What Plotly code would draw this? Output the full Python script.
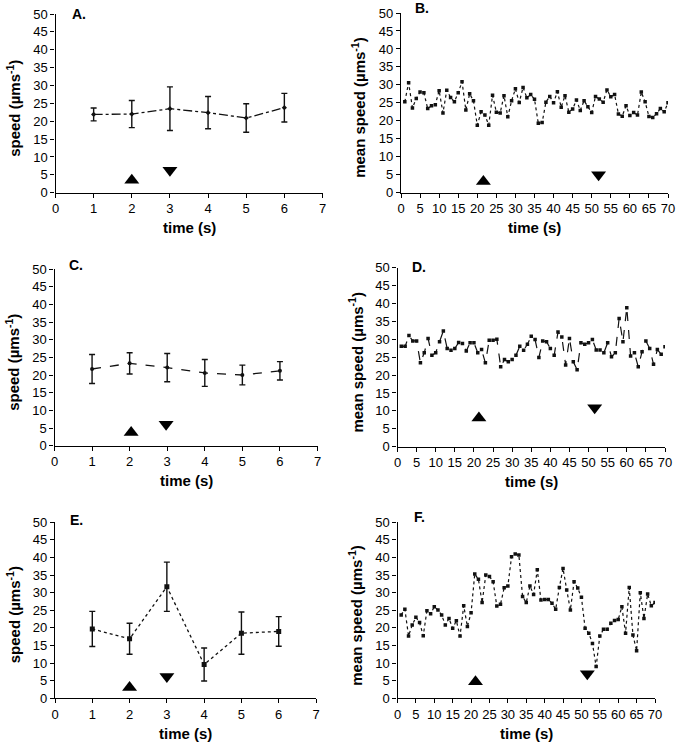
import plotly.graph_objects as go

W, H = 676, 742

# ---------------- data ----------------
sec = [1, 2, 3, 4, 5, 6]

a_mean = [21.9, 22.0, 23.5, 22.4, 20.9, 23.8]
a_err = [1.8, 3.8, 6.1, 4.5, 4.0, 4.0]

c_mean = [21.7, 23.3, 22.1, 20.6, 20.0, 21.2]
c_err = [4.1, 3.0, 4.0, 3.8, 2.8, 2.6]

e_mean = [19.7, 16.9, 31.7, 9.6, 18.5, 19.0]
e_err = [5.0, 4.4, 7.0, 4.7, 6.0, 4.2]

t70 = list(range(1, 71))

b_speed = [25.3, 30.6, 23.6, 26.2, 28.0, 27.8, 23.4, 24.2, 24.5, 28.4,
           22.2, 28.5, 26.5, 25.3, 27.8, 30.9, 23.0, 27.5, 25.6, 18.8,
           22.5, 21.6, 18.8, 27.1, 22.4, 22.2, 27.0, 21.1, 25.6, 28.9,
           25.1, 29.3, 26.4, 27.3, 26.0, 19.3, 19.5, 25.2, 26.8, 25.0,
           28.1, 23.8, 27.0, 22.4, 23.3, 25.8, 22.9, 25.6, 23.9, 22.3,
           26.8, 26.1, 25.2, 28.6, 26.7, 27.3, 21.9, 21.3, 24.2, 21.5,
           22.3, 21.6, 28.0, 25.3, 21.2, 20.9, 22.0, 23.4, 22.5, 25.0]

d_speed = [28.0, 28.0, 31.0, 29.5, 29.5, 23.4, 26.2, 30.2, 25.5, 26.2,
           29.3, 32.3, 27.4, 26.9, 27.4, 29.1, 28.8, 26.7, 29.0, 29.0,
           26.2, 27.1, 23.4, 29.7, 29.7, 30.0, 22.3, 24.3, 23.7, 24.3,
           25.5, 28.0, 26.9, 28.6, 30.8, 29.9, 24.9, 29.5, 29.3, 27.4,
           25.5, 32.0, 30.6, 22.8, 30.2, 23.7, 21.5, 29.0, 28.6, 29.0,
           29.9, 27.0, 27.0, 26.2, 29.0, 25.1, 26.2, 35.8, 29.3, 38.8,
           25.3, 26.2, 22.3, 26.5, 29.5, 27.4, 23.0, 27.1, 25.8, 27.9]

f_speed = [23.7, 25.3, 17.7, 20.8, 23.0, 21.5, 17.8, 24.9, 24.0, 26.0,
           25.1, 23.7, 20.8, 22.7, 19.9, 22.0, 17.7, 26.3, 20.4, 24.3,
           35.3, 33.8, 27.2, 35.0, 34.6, 33.1, 26.2, 26.7, 31.4, 31.9,
           40.2, 41.0, 40.7, 28.9, 27.2, 31.9, 29.5, 36.5, 27.9, 28.1,
           28.1, 27.0, 25.3, 31.5, 36.9, 30.8, 25.1, 33.1, 31.3, 28.7,
           19.9, 18.5, 15.6, 9.0, 17.7, 19.6, 19.6, 21.3, 22.1, 22.4,
           26.0, 18.5, 31.5, 18.0, 13.5, 30.0, 22.7, 29.6, 26.3, 27.2]

# arrow markers (x, y) : up = stimulus on, down = stimulus off
up_x = {"A": 2, "B": 21.6, "C": 2.04, "D": 21.3, "E": 2, "F": 21.2}
up_y = {"A": 3.5, "B": 3.1, "C": 3.7, "D": 8.0, "E": 3.1, "F": 4.7}
dn_x = {"A": 3, "B": 51.8, "C": 2.97, "D": 51.6, "E": 3, "F": 51.6}
dn_y = {"A": 6.3, "B": 5.0, "C": 6.1, "D": 10.9, "E": 6.2, "F": 7.0}

panel_labels = ["A.", "B.", "C.", "D.", "E.", "F."]
y_ticks = list(range(0, 51, 5))
x_ticks_left = list(range(0, 8))
x_ticks_right = list(range(0, 71, 5))

# ---------------- layout (pixel boxes) ----------------
# (x0, x1, ytop, ybottom) in pixels
boxes = {
    "A": (55.5, 322.5, 14.0, 192.7),
    "B": (401.0, 668.0, 13.0, 192.7),
    "C": (54.5, 317.5, 269.0, 445.7),
    "D": (397.5, 665.0, 267.5, 446.7),
    "E": (55.0, 316.0, 522.3, 698.3),
    "F": (397.5, 655.0, 522.3, 698.3),
}
label_pos = {"A": (70, 14), "B": (413, 8), "C": (67, 265), "D": (410, 267),
             "E": (68, 520), "F": (412, 517)}
order = ["A", "B", "C", "D", "E", "F"]

FONT = "Liberation Sans, Arial, Helvetica, sans-serif"
fig = go.Figure()

def axname(i, kind):
    return kind if i == 0 else f"{kind}{i+1}"

def ref(i, kind):
    return kind[0] if i == 0 else f"{kind[0]}{i+1}"

line_black = "#111111"

# error-bar panels
for key, m, e, dash, sym, msize in [("A", a_mean, a_err, "dashdot", "diamond", 4),
                                     ("C", c_mean, c_err, "dash", "circle", 4),
                                     ("E", e_mean, e_err, "dot", "square", 5)]:
    i = order.index(key)
    fig.add_trace(go.Scatter(
        x=sec, y=m, mode="lines+markers",
        line=dict(color=line_black, width=1.3, dash=dash),
        marker=dict(color=line_black, size=msize, symbol=sym),
        error_y=dict(type="data", array=e, visible=True, color=line_black,
                     thickness=1.4, width=3),
        xaxis=ref(i, "x"), yaxis=ref(i, "y"), showlegend=False))

# time-series panels
for key, s, dash in [("B", b_speed, "dot"), ("D", d_speed, "dash"), ("F", f_speed, "dot")]:
    i = order.index(key)
    fig.add_trace(go.Scatter(
        x=t70, y=s, mode="lines+markers",
        line=dict(color=line_black, width=1.2, dash=dash),
        marker=dict(color=line_black, size=3.5, symbol="square"),
        xaxis=ref(i, "x"), yaxis=ref(i, "y"), showlegend=False))

# arrows
for i, key in enumerate(order):
    fig.add_trace(go.Scatter(
        x=[up_x[key]], y=[up_y[key]], mode="markers",
        marker=dict(symbol="triangle-up", size=13, color="black"),
        xaxis=ref(i, "x"), yaxis=ref(i, "y"), showlegend=False, cliponaxis=False))
    fig.add_trace(go.Scatter(
        x=[dn_x[key]], y=[dn_y[key]], mode="markers",
        marker=dict(symbol="triangle-down", size=13, color="black"),
        xaxis=ref(i, "x"), yaxis=ref(i, "y"), showlegend=False, cliponaxis=False))

layout = dict(width=W, height=H, margin=dict(l=0, r=0, t=0, b=0, autoexpand=False),
              template="none", hovermode=False,
              paper_bgcolor="white", plot_bgcolor="white", showlegend=False,
              font=dict(family=FONT, color="black"))

common = dict(showline=True, linecolor="black", linewidth=1.3, ticks="outside",
              ticklen=4, tickwidth=1.2, tickcolor="black", showgrid=False,
              zeroline=False, automargin=False,
              tickfont=dict(family=FONT, size=13, color="black"))

annotations = []
for i, key in enumerate(order):
    x0, x1, yt, yb = boxes[key]
    left = key in ("A", "C", "E")
    xa = dict(common, domain=[x0 / W, x1 / W], anchor=ref(i, "y"),
              range=[0, 7] if left else [0, 70],
              tickvals=x_ticks_left if left else x_ticks_right)
    ya = dict(common, domain=[1 - yb / H, 1 - yt / H], anchor=ref(i, "x"),
              range=[0, 50], tickvals=y_ticks)
    layout[axname(i, "xaxis")] = xa
    layout[axname(i, "yaxis")] = ya

    # x title
    annotations.append(dict(
        text="<b>time (s)</b>", x=((x0 + x1) / 2) / W, y=1 - (yb + 35) / H,
        xref="paper", yref="paper", showarrow=False, xanchor="center", yanchor="middle",
        font=dict(family=FONT, size=15, color="black")))
    # y title
    ytxt = "<b>speed (µms<sup>-1</sup>)</b>" if left else "<b>mean speed (µms<sup>-1</sup>)</b>"
    annotations.append(dict(
        text=ytxt, x=(x0 - 42) / W, y=1 - ((yt + yb) / 2 + 5) / H, textangle=-90,
        xref="paper", yref="paper", showarrow=False, xanchor="center", yanchor="middle",
        font=dict(family=FONT, size=15, color="black")))
    # panel label
    lx, ly = label_pos[key]
    annotations.append(dict(
        text=f"<b>{panel_labels[i]}</b>", x=lx / W, y=1 - ly / H,
        xref="paper", yref="paper", showarrow=False, xanchor="left", yanchor="middle",
        font=dict(family=FONT, size=14, color="black")))

layout["annotations"] = annotations
fig.update_layout(**layout)
fig.write_html("out.html", config={"displayModeBar": False},
               post_script="document.body.style.margin='0px';document.body.style.overflow='hidden';")
